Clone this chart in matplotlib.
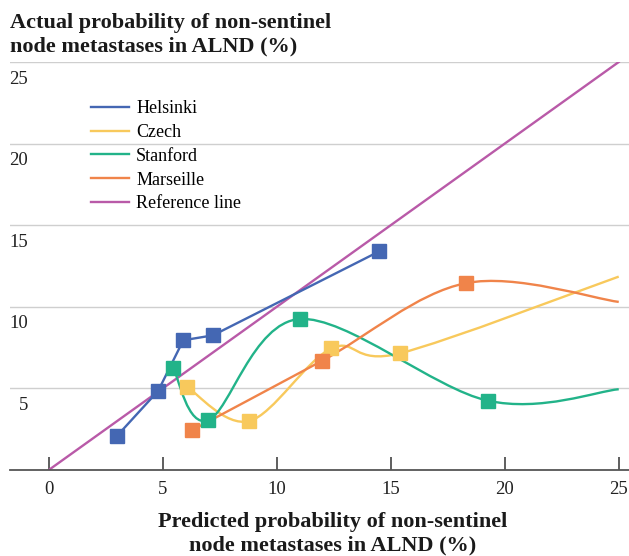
import matplotlib
matplotlib.use('Agg')
import matplotlib.pyplot as plt
from matplotlib.path import Path
from matplotlib.patches import PathPatch
from matplotlib.lines import Line2D
from matplotlib.transforms import ScaledTranslation
import numpy as np

plt.rcParams['font.family'] = ['Liberation Serif', 'DejaVu Serif']

# data (predicted %, actual %)
helsinki_x = [3.0, 4.8, 5.9, 7.2, 14.5]
helsinki_y = [2.1, 4.85, 7.95, 8.25, 13.4]

czech_x = [6.05, 8.8, 12.4, 15.4, 25.0]
czech_y = [5.1, 3.0, 7.45, 7.15, 11.85]

stanford_x = [5.45, 7.0, 11.0, 19.25, 25.0]
stanford_y = [6.25, 3.05, 9.25, 4.25, 4.95]

marseille_x = [6.3, 12.0, 18.3, 25.0]
marseille_y = [2.45, 6.7, 11.45, 10.3]

ref_x = [0, 25]
ref_y = [0, 25]

ticks = [0, 5, 10, 15, 20, 25]

c_hel = '#4467b3'
c_cze = '#f8c95c'
c_sta = '#22b389'
c_mar = '#f0844a'
c_ref = '#b95aa8'

fig = plt.figure(figsize=(6.29, 5.56), dpi=100)
ax = fig.add_axes([10/629, 86/556, 619/629, 408/556])


def smooth(ax, xs, ys, color):
    # excel-like smoothed line drawn as bezier path
    p = np.column_stack([xs, ys])
    n = len(p)
    verts = [p[0]]
    codes = [Path.MOVETO]
    for i in range(n - 1):
        p0 = p[i - 1] if i > 0 else p[i]
        p3 = p[i + 2] if i + 2 < n else p[i + 1]
        c1 = p[i] + (p[i + 1] - p0) / 6
        c2 = p[i + 1] - (p3 - p[i]) / 6
        verts += [c1, c2, p[i + 1]]
        codes += [Path.CURVE4] * 3
    ax.add_patch(PathPatch(Path(verts, codes), fc='none', ec=color, lw=1.7, zorder=3))


ax.plot(ref_x, ref_y, color=c_ref, lw=1.7, zorder=2)
ax.plot(helsinki_x, helsinki_y, color=c_hel, lw=1.7, zorder=3)
smooth(ax, czech_x, czech_y, c_cze)
smooth(ax, stanford_x, stanford_y, c_sta)
smooth(ax, marseille_x, marseille_y, c_mar)

ms = 9.5
ax.plot(helsinki_x, helsinki_y, 's', color=c_hel, ms=ms, zorder=4)
ax.plot(czech_x[:-1], czech_y[:-1], 's', color=c_cze, ms=ms, zorder=4)
ax.plot(stanford_x[:-1], stanford_y[:-1], 's', color=c_sta, ms=ms, zorder=4)
ax.plot(marseille_x[:-1], marseille_y[:-1], 's', color=c_mar, ms=ms, zorder=4)

ax.set_xlim(-1.7, 25.45)
ax.set_ylim(0, 25)

ax.set_xticks(ticks)
ax.set_xticklabels([str(t) for t in ticks])
ax.set_yticks(ticks[1:])
ax.set_yticklabels([str(t) for t in ticks[1:]])
ax.yaxis.grid(True, color='#cfcfcf', lw=1.0)
ax.set_axisbelow(True)

for s in ['left', 'right', 'top']:
    ax.spines[s].set_visible(False)
ax.spines['bottom'].set_color('#555555')
ax.spines['bottom'].set_linewidth(1.3)

ax.tick_params(axis='x', direction='in', length=9.5, width=1.1, color='#333333',
               labelsize=13.5, pad=8, labelcolor='#222222')
ax.tick_params(axis='y', length=0, labelsize=13.5, pad=-15, labelcolor='#222222')
for lab in ax.get_yticklabels():
    lab.set_transform(lab.get_transform() + ScaledTranslation(-3/100, -15/100, fig.dpi_scale_trans))

fig.text(10/629, 1 - 13/556, 'Actual probability of non-sentinel\nnode metastases in ALND (%)',
         ha='left', va='top', fontsize=16, fontweight='bold', linespacing=1.2, color='#1a1a1a')
fig.text(333/629, 1 - 512/556, 'Predicted probability of non-sentinel\nnode metastases in ALND (%)',
         ha='center', va='top', fontsize=16, fontweight='bold', linespacing=1.2, color='#1a1a1a')

handles = [Line2D([], [], color=c, lw=1.7) for c in [c_hel, c_cze, c_sta, c_mar, c_ref]]
labels = ['Helsinki', 'Czech', 'Stanford', 'Marseille', 'Reference line']
fig.legend(handles, labels, loc='upper left', bbox_to_anchor=(91/629, 1 - 100/556),
           frameon=False, fontsize=13, handlelength=2.1, handletextpad=0.4,
           labelspacing=0.38, borderpad=0, borderaxespad=0)

plt.savefig('out.png', dpi=100)
